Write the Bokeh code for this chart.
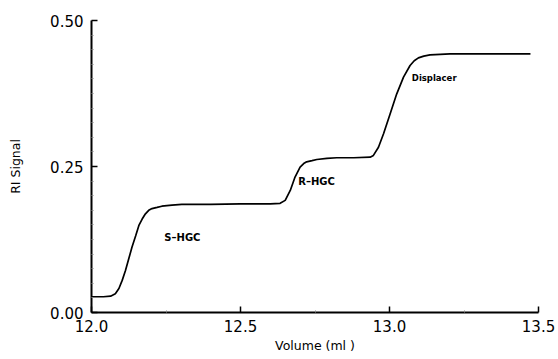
from bokeh.plotting import figure
from bokeh.models import Range1d, FixedTicker, NumeralTickFormatter
from bokeh.core.properties import value
from bokeh.embed import file_html
from bokeh.resources import INLINE

# Trace
volume = [12.000, 12.040, 12.064, 12.080, 12.092, 12.103, 12.114, 12.125, 12.136, 12.148,
          12.159, 12.170, 12.181, 12.192, 12.203, 12.220, 12.236, 12.270, 12.303, 12.400,
          12.500, 12.600, 12.633, 12.650, 12.667, 12.683, 12.700, 12.712, 12.722, 12.740,
          12.756, 12.790, 12.823, 12.880, 12.935, 12.946, 12.963, 12.980, 13.002, 13.024,
          13.047, 13.069, 13.083, 13.097, 13.115, 13.136, 13.170, 13.203, 13.300, 13.400,
          13.473]
signal = [0.027, 0.027, 0.028, 0.032, 0.041, 0.055, 0.072, 0.092, 0.112, 0.131,
          0.149, 0.160, 0.169, 0.175, 0.178, 0.180, 0.182, 0.184, 0.185, 0.185,
          0.186, 0.186, 0.187, 0.192, 0.209, 0.232, 0.249, 0.255, 0.258, 0.260,
          0.262, 0.264, 0.265, 0.265, 0.266, 0.269, 0.283, 0.306, 0.340, 0.374,
          0.403, 0.423, 0.431, 0.436, 0.439, 0.441, 0.442, 0.443, 0.443, 0.443,
          0.443]

label_text = ["S\u2013HGC", "R\u2013HGC"]
label_x = [12.305, 12.755]
label_y = [0.128, 0.224]
disp_text = ["Displacer"]
disp_x = [13.15]
disp_y = [0.402]

x_ticks = [12.0, 12.5, 13.0, 13.5]
y_ticks = [0.0, 0.25, 0.5]

FONT = "DejaVu Sans"

p = figure(width=556, height=357, output_backend="svg", toolbar_location=None,
           x_range=Range1d(12.0, 13.5), y_range=Range1d(0.0, 0.5),
           min_border_left=91, min_border_right=18, min_border_top=20, min_border_bottom=45)
p.outline_line_color = None
p.grid.visible = False
p.background_fill_color = "white"
p.border_fill_color = "white"

p.line(volume, signal, line_color="black", line_width=1.7)

p.text(x=label_x, y=label_y, text=label_text, text_font=value(FONT), text_font_size="10px",
       text_font_style="bold", text_align="center", text_baseline="middle", text_color="black")
p.text(x=disp_x, y=disp_y, text=disp_text, text_font=value(FONT), text_font_size="8.5px",
       text_font_style="bold", text_align="center", text_baseline="middle", text_color="black")

xa = p.xaxis[0]
xa.ticker = FixedTicker(ticks=x_ticks, minor_ticks=[12.25, 12.75, 13.25])
xa.formatter = NumeralTickFormatter(format="0.0")
xa.axis_label = "Volume (ml )"
ya = p.yaxis[0]
ya.ticker = FixedTicker(ticks=y_ticks, minor_ticks=[0.025 * i for i in range(1, 20) if i % 10])
ya.formatter = NumeralTickFormatter(format="0.00")
ya.axis_label = "RI Signal"

for ax in (xa, ya):
    ax.axis_line_width = 2
    ax.axis_line_color = "black"
    ax.major_tick_in = 6
    ax.major_tick_out = 0
    ax.major_tick_line_width = 1.5
    ax.minor_tick_in = 2
    ax.minor_tick_out = 0
    ax.minor_tick_line_color = "#888888"
    ax.major_label_text_font = FONT
    ax.major_label_text_font_size = "15px"
    ax.major_label_text_color = "black"
    ax.axis_label_text_font = FONT
    ax.axis_label_text_font_size = "12.5px"
    ax.axis_label_text_font_style = "normal"
    ax.axis_label_text_color = "black"

xa.major_label_standoff = 7
xa.axis_label_standoff = 3
ya.major_label_standoff = 8
ya.axis_label_standoff = 24

open("out.html", "w").write(file_html(p, INLINE))
